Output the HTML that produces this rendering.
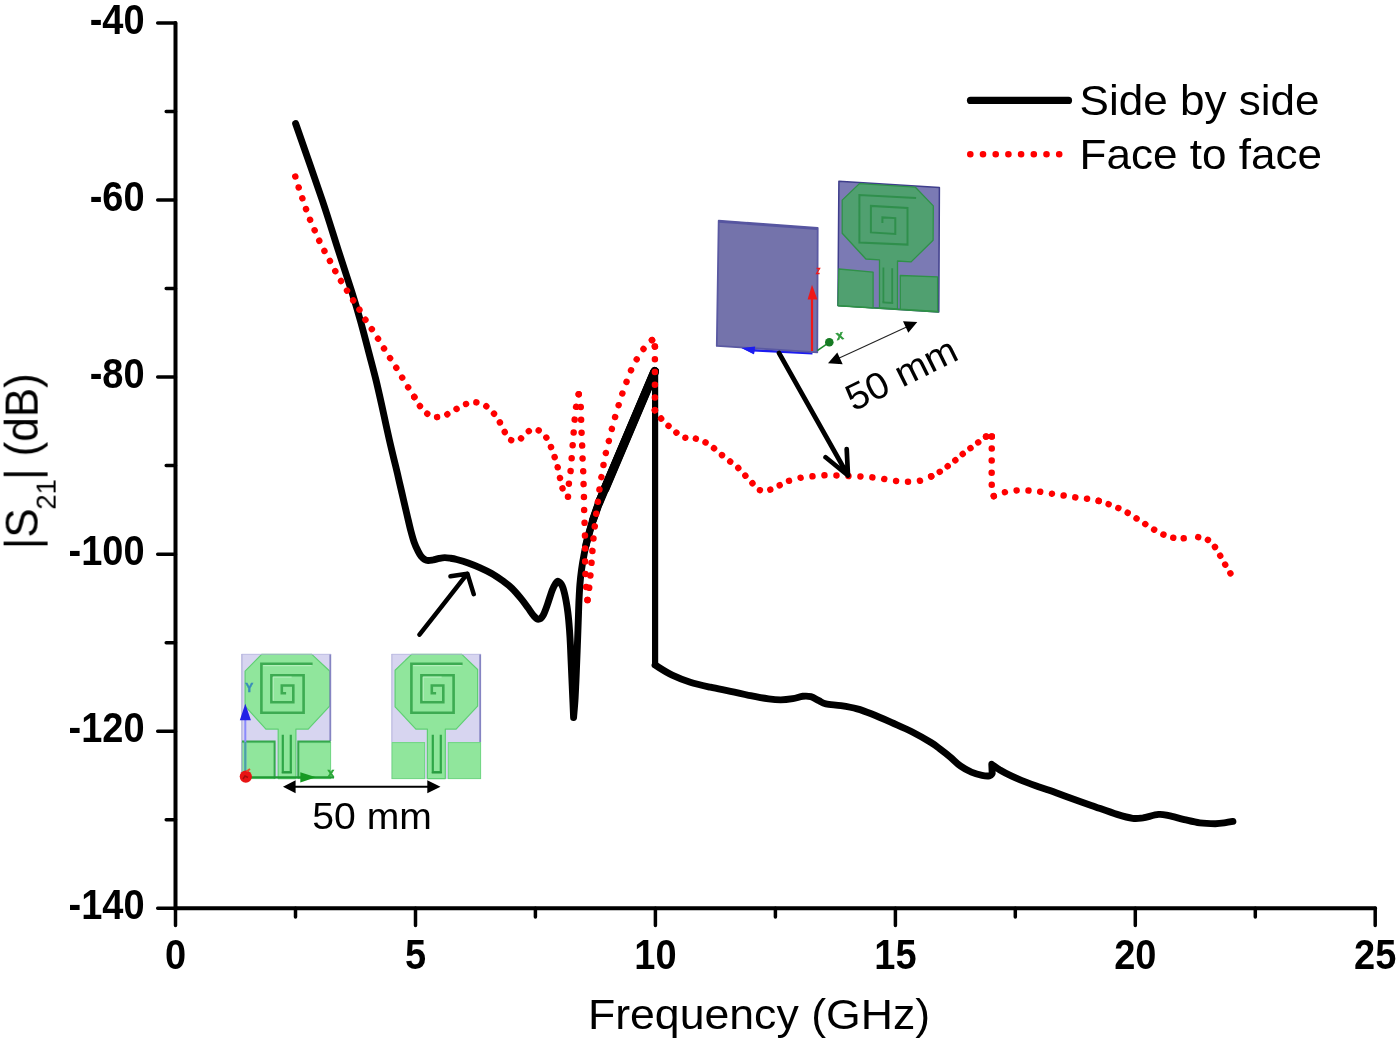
<!DOCTYPE html>
<html><head><meta charset="utf-8"><title>S21 chart</title>
<style>html,body{margin:0;padding:0;background:#fff}svg{display:block}text{font-family:"Liberation Sans",sans-serif;fill:#000}.tk{font-weight:bold;font-size:38px}</style></head><body>
<svg width="1400" height="1045" viewBox="0 0 1400 1045">
<defs><filter id="soft" x="0" y="0" width="1400" height="1045" filterUnits="userSpaceOnUse" color-interpolation-filters="sRGB"><feGaussianBlur stdDeviation="0.6"/></filter></defs>
<rect width="1400" height="1045" fill="#fff"/>
<g filter="url(#soft)">
<g stroke="#000" stroke-width="4.0" stroke-linecap="round" fill="none">
<path d="M175.5 22.9 V908.3 H1375.2"/>
<path d="M157.7 22.9H175.5M166.2 111.5H175.5M157.7 200H175.5M166.2 288.6H175.5M157.7 377.1H175.5M166.2 465.6H175.5M157.7 554.2H175.5M166.2 642.7H175.5M157.7 731.3H175.5M166.2 819.8H175.5M157.7 908.3H175.5M175.5 908.3V925.5M295.5 908.3V916.9M415.5 908.3V925.5M535.4 908.3V916.9M655.4 908.3V925.5M775.4 908.3V916.9M895.4 908.3V925.5M1015.3 908.3V916.9M1135.3 908.3V925.5M1255.3 908.3V916.9M1375.2 908.3V925.5" stroke-width="3.5"/>
</g>
<text class="tk" transform="translate(144.6 33.6) scale(1 1.1)" text-anchor="end">-40</text>
<text class="tk" transform="translate(144.6 210.7) scale(1 1.1)" text-anchor="end">-60</text>
<text class="tk" transform="translate(144.6 387.8) scale(1 1.1)" text-anchor="end">-80</text>
<text class="tk" transform="translate(144.6 564.9) scale(1 1.1)" text-anchor="end">-100</text>
<text class="tk" transform="translate(144.6 742) scale(1 1.1)" text-anchor="end">-120</text>
<text class="tk" transform="translate(144.6 919) scale(1 1.1)" text-anchor="end">-140</text>
<text class="tk" transform="translate(175.5 969.3) scale(1 1.1)" text-anchor="middle">0</text>
<text class="tk" transform="translate(415.5 969.3) scale(1 1.1)" text-anchor="middle">5</text>
<text class="tk" transform="translate(655.4 969.3) scale(1 1.1)" text-anchor="middle">10</text>
<text class="tk" transform="translate(895.4 969.3) scale(1 1.1)" text-anchor="middle">15</text>
<text class="tk" transform="translate(1135.3 969.3) scale(1 1.1)" text-anchor="middle">20</text>
<text class="tk" transform="translate(1375.2 969.3) scale(1 1.1)" text-anchor="middle">25</text>
<text transform="translate(759 1029.3) scale(1.038 1)" text-anchor="middle" font-size="43">Frequency (GHz)</text>
<text transform="translate(37.8 549.2) rotate(-90) scale(1 1.03)" font-size="44">|S<tspan font-size="27.5" dy="17.5" dx="-1.2">21</tspan><tspan dy="-17.5" dx="-1">| (dB)</tspan></text>
<defs>
  <!-- flat antenna, local origin = substrate top-left, size 89.4 x 125 -->
  <rect id="sub" x="0" y="0" width="89.4" height="125" fill="#d7d5f0"/>
  <g id="ant">
    <!-- ground pads -->
    <rect x=".4" y="88.6" width="32.6" height="36" fill="#90e69c" stroke="#6ed680" stroke-width="1"/>
    <rect x="56.7" y="88.6" width="32.3" height="36" fill="#90e69c" stroke="#6ed680" stroke-width="1"/>
    <!-- spiral slot -->
    <path d="M71 9.8H19.8V58.8H62V21.3H29.8V48.3H51.7V31.5H40.2V39.2H44.5" fill="none" stroke="#3dab52" stroke-width="2.6" stroke-linejoin="miter"/>
    <path d="M70 11.7H21.6" fill="none" stroke="#c4f5ca" stroke-width="1" opacity=".85"/>
    <path d="M50 23.1H31.6V46.6" fill="none" stroke="#c4f5ca" stroke-width="1" opacity=".8"/>
    <!-- feed slot -->
    <path d="M41.2 80.8V118.2H49.2V80.8" fill="none" stroke="#2fa648" stroke-width="2.2"/>
    <path d="M40.2 118.6H50.2" stroke="#2a9c40" stroke-width="1.6"/>
  </g>
</defs>

<!-- ============ side by side inset ============ -->
<g>
  <use href="#sub" x="241.6" y="654"/>
  <use href="#sub" x="391.6" y="654"/>
  <g fill="#90e69c" stroke="#5fcf73" stroke-width="1.2" stroke-linejoin="round">
    <path transform="translate(241.6 654)" d="M20 .4H70.2L88 17V52.1L66.6 75.1H54.3V124.6H36.6V75.1H24.3L3.5 52.1V17.2Z"/>
    <path transform="translate(391.6 654)" d="M20 .4H70.2L86 15.5V52.1L64.5 75.1H53.7V124.6H35.8V75.1H24.3L3.5 52.8V16.2Z"/>
  </g>
  <use href="#ant" x="241.6" y="654"/>
  <use href="#ant" x="391.6" y="654"/>
  <!-- substrate edges -->
  <path d="M241.9 654V778.8" stroke="#a6a5d6" stroke-width="1"/>
  <path d="M330.3 654V741" stroke="#8584c2" stroke-width="1.8"/>
  <path d="M391.9 654V742" stroke="#b4b3dc" stroke-width="1"/>
  <path d="M480.2 654V742" stroke="#8584c2" stroke-width="1.8"/>
  <path d="M241.6 654.3H331M391.6 654.3H481" stroke="#b9b8e0" stroke-width=".8"/>
  <!-- left antenna: darker outlines on pads & base line -->
  <path d="M242 741.6H274.6V778.6M298.3 778.6V741.6H330.6" fill="none" stroke="#35a84c" stroke-width="2"/>
  <path d="M246 777.3H334" stroke="#1f9a33" stroke-width="2.2"/>
  <!-- coordinate triad -->
  <path d="M245.3 776V716" stroke="#8a8afc" stroke-width="2"/>
  <path d="M245.3 776V742" stroke="#45a5a0" stroke-width="2"/>
  <path d="M239.8 720.2H250.9L245.3 703.8Z" fill="#2222e6"/>
  <path d="M300.3 772.2V782.4L316 777.3Z" fill="#169a22"/>
  <text x="245.3" y="692" font-size="12" font-weight="bold" style="fill:#3a8cba;stroke:#3a8cba;stroke-width:.5">Y</text>
  <text x="327.6" y="777" font-size="12" font-weight="bold" style="fill:#2aa838;stroke:#2aa838;stroke-width:.5">x</text>
  <circle cx="245.8" cy="776.6" r="6.1" fill="#e81414"/>
  <path d="M243 779l2-3 3 1.500" stroke="#a50c0c" stroke-width="1.4" fill="none"/>
  <path d="M246.500 771.500l3.500-2.500" stroke="#e84a2a" stroke-width="2"/>
  <!-- dimension arrow -->
  <path d="M293 786.8H431" stroke="#000" stroke-width="1.9"/>
  <path d="M283 786.8L295.6 780.3V793.3ZM440.5 786.8L427.3 780.3V793.3Z" fill="#000"/>
  <text x="372.1" y="829" text-anchor="middle" font-size="37.4" textLength="119.5" lengthAdjust="spacingAndGlyphs">50 mm</text>
</g>

<!-- ============ face to face inset ============ -->
<g>
  <!-- back board -->
  <path d="M753 350.2L812.5 353.4" stroke="#1c1cf0" stroke-width="2.4"/>
  <path d="M741.5 347.9L755.2 344.6L754 354.2Z" fill="#1c1cf0"/>
  <path d="M718.700 220.700L817.700 227.900L817.300 352.300L716.800 345.900Z" fill="#7473ab" stroke="#5a59a2" stroke-width="1.8" stroke-linejoin="round"/>
  <path d="M718.9 221.6L817.5 228.8" stroke="#5655a0" stroke-width="2.2"/>
  <!-- front board -->
  <path d="M838.900 181.200L939.400 187.500L938.800 312.100L837.900 305.600Z" fill="#7b7ab4" stroke="#3f3e8c" stroke-width="1.5" stroke-linejoin="round"/>
  <g fill="#50a070" stroke="#2f9148" stroke-width="1.3" stroke-linejoin="round">
    <path d="M859.400 183.600L915.400 187.200L933.300 205.900L933.100 240.300L911.100 261.900L897.500 261V308.800L879.500 307.700V259.900L865.900 259L842.200 233.200V200.100Z"/>
    <path d="M838.900 269L873.100 272.200V307.800L837.900 305.600Z"/>
    <path d="M900.300 275.500L937.600 276.900V311.400L900.300 309.200Z"/>
  </g>
  <path d="M916.100 198L859.400 195.100V242.500L907.500 244.600V208L870.900 205.900V232.400L895.300 233.900V218.100L882.400 217.400V223.100" fill="none" stroke="#2f8f4c" stroke-width="2"/>
  <path d="M883.400 267.600V302M892.200 268.300V302.800M882.400 302.300L893.200 303" fill="none" stroke="#2f8f4c" stroke-width="1.8"/>
  <path d="M838.200 305.700L938.800 312.100" stroke="#2f9148" stroke-width="1.5"/>
  <!-- triad -->
  <path d="M812 351V298" stroke="#f01818" stroke-width="2.2"/>
  <path d="M807.600 299.400H817.400L812 284.800Z" fill="#f01818"/>
  <path d="M816.600 268.500h3l-3 5h3" stroke="#f01818" stroke-width="1.3" fill="none"/>
  <path d="M741.5 347.9L755.2 346.4L754 354.2Z" fill="#1c1cf0"/>
  <path d="M817.300 350.700L829.200 342.300" stroke="#1d8a2a" stroke-width="1.6"/>
  <circle cx="829.300" cy="342.200" r="4.300" fill="#157a22"/>
  <text x="836" y="339.5" font-size="13" font-weight="bold" style="fill:#2e9a3c;stroke:#2e9a3c;stroke-width:.5" transform="rotate(-12 840 335)">x</text>
  <!-- dimension arrow -->
  <path d="M836 359.600L909.300 325.700" stroke="#222" stroke-width="1.1"/>
  <path d="M828 363.300L837.300 352.600L842.700 364.200ZM917.300 322L903 321.200L908.300 332.800Z" fill="#000"/>
  <text transform="translate(901.3 373.8) rotate(-26.3)" x="0" y="12.800" text-anchor="middle" font-size="37.4" textLength="119.5" lengthAdjust="spacingAndGlyphs">50 mm</text>
</g>

<path d="M295.6 123.5 C300 136.2 315.1 178.9 322.2 200 C329.3 221.1 333.4 235.2 338.3 250.3 C343.2 265.4 347.7 278.8 351.4 290.5 C355.1 302.2 357.6 310.6 360.4 320.6 C363.2 330.7 365.8 340.8 368.4 350.8 C371 360.9 373.8 371 376.2 380.9 C378.6 390.8 380.6 400.1 382.8 410 C385 419.9 387.2 430.4 389.5 440.4 C391.8 450.4 394.8 462.6 396.6 470 C398.4 477.4 398.9 480.1 400.1 485.1 C401.3 490.1 402.4 495.2 403.6 500.2 C404.8 505.2 405.9 510.2 407.1 515.2 C408.3 520.2 409.5 525.8 410.7 530.3 C411.9 534.8 413 539 414.2 542.4 C415.4 545.8 416.5 548.1 417.7 550.4 C418.9 552.7 420 554.9 421.2 556.4 C422.4 557.9 423.5 558.7 424.7 559.4 C425.9 560.1 426.8 560.4 428.2 560.5 C429.6 560.6 431.4 560.2 433.3 559.9 C435.2 559.5 437.4 558.8 439.3 558.4 C441.2 558 443 557.6 444.8 557.6 C446.6 557.6 448.4 557.9 450.4 558.2 C452.4 558.5 453.8 558.7 456.8 559.5 C459.8 560.3 464.4 561.6 468.2 563 C472 564.4 475.9 565.9 479.7 567.6 C483.5 569.3 487.4 571.1 491.2 573.3 C495 575.5 499.2 578.3 502.7 580.8 C506.1 583.3 508.8 585.2 511.9 588.2 C515 591.2 518.4 595.3 521.1 598.6 C523.8 601.9 525.9 604.9 528 607.8 C530.1 610.7 532 613.9 533.7 615.8 C535.4 617.7 536.8 619.3 538.3 619.3 C539.8 619.3 541.4 618.3 542.9 615.8 C544.4 613.3 546 608.5 547.5 604.3 C549 600.1 550.8 594 552.1 590.5 C553.4 587 554.5 585.1 555.5 583.6 C556.5 582.1 557.3 581 558.4 581.4 C559.5 581.8 561 583.2 562.2 585.9 C563.4 588.6 564.5 593 565.4 597.4 C566.3 601.8 567.1 606.6 567.8 612 C568.5 617.4 569.1 624.5 569.5 630 C569.9 635.5 570.1 638.3 570.4 645 C570.7 651.7 571.1 661.7 571.5 670 C571.9 678.3 572.2 687.1 572.6 695 C573 702.9 573.4 713.8 573.6 717.5 L573.6 717.5 C573.8 714.6 574.6 706.2 575 700 C575.4 693.8 575.6 688.3 576 680 C576.4 671.7 576.8 660 577.2 650 C577.6 640 578 628.3 578.3 620 C578.6 611.7 578.7 605.9 579 600 C579.3 594.1 579.5 589.6 579.9 584.6 C580.3 579.6 580.8 575 581.5 569.9 C582.2 564.8 583.1 559.4 584.2 553.8 C585.3 548.2 586.8 542 588.2 536.4 C589.7 530.8 590.9 526.4 592.9 520.3 C594.9 514.2 598.8 503.4 600 500" fill="none" stroke="#000" stroke-width="6.9" stroke-linejoin="round" stroke-linecap="round"/>
<g fill="none" stroke="#000" stroke-linejoin="round" stroke-linecap="round"><path d="M586 545 L588.2 536.4 L592.9 520.3 L600 500 L654.8 371" stroke-width="7.4"/><path d="M592.9 520.3 L600 500 L654.8 371" stroke-width="8.0"/><path d="M599 502.8 L654.7 371.4" stroke-width="8.5"/><path d="M605 488.7 L654.4 372.2" stroke-width="9.0"/></g>
<path d="M655.1 370.5 V665.1" fill="none" stroke="#000" stroke-width="6.2" stroke-linecap="round"/>
<path d="M655.1 665.1 C658 666.8 666.3 672.4 672.2 675.2 C678.1 678.1 683.9 680.2 690.3 682.2 C696.7 684.2 703.7 685.7 710.4 687.2 C717.1 688.7 723.8 689.9 730.5 691.3 C737.2 692.7 744.2 694.4 750.6 695.7 C757 697 763.6 698.2 768.6 698.9 C773.6 699.6 776.7 699.9 780.7 699.9 C784.7 699.9 789.1 699.3 792.8 698.7 C796.5 698.1 799.8 696.6 802.8 696.3 C805.8 696 808.2 696 810.9 696.7 C813.6 697.4 816.4 699.5 818.9 700.7 C821.4 701.9 822.2 703.1 825.9 703.9 C829.6 704.7 835.8 704.9 841 705.7 C846.2 706.5 852.1 707.5 857.1 708.9 C862.1 710.2 865.5 711.5 871.2 713.8 C876.9 716 884.6 719.4 891.3 722.4 C898 725.4 904.8 728.1 911.4 731.5 C918 734.9 926.2 739.6 931 742.5 C935.8 745.4 936.8 746.6 940 749 C943.2 751.4 946.5 753.9 950 756.8 C953.5 759.7 957.1 763.7 960.7 766.2 C964.3 768.8 967.8 770.6 971.4 772.1 C975 773.6 979.1 774.8 982.1 775.4 C985.1 776 987.8 776.1 989.5 775.8 C991.2 775.5 991.8 774 992.2 773.6 L991.8 764.3 C993.2 765.2 996.9 768.1 1000 770 C1003.1 771.9 1007.1 774 1010.7 775.7 C1014.3 777.4 1017.2 778.7 1021.4 780.4 C1025.6 782.1 1030.9 784 1035.7 785.7 C1040.5 787.4 1045 788.8 1050 790.6 C1055 792.4 1058.5 793.8 1065.4 796.3 C1072.3 798.8 1082.7 802.4 1091.3 805.4 C1099.9 808.4 1110.2 812.2 1117.1 814.4 C1124 816.5 1128.3 817.7 1132.6 818.3 C1136.9 818.9 1138.7 818.4 1143 817.8 C1147.3 817.1 1154.2 814.8 1158.5 814.4 C1162.8 814 1164.5 814.8 1168.8 815.7 C1173.1 816.6 1179.1 818.4 1184.3 819.6 C1189.5 820.8 1194.6 822.2 1199.8 822.9 C1205 823.6 1211 823.7 1215.3 823.7 C1219.6 823.7 1222.8 823.1 1225.7 822.7 C1228.6 822.3 1231.7 821.6 1232.9 821.4" fill="none" stroke="#000" stroke-width="6.9" stroke-linejoin="round" stroke-linecap="round"/>
<g fill="none" stroke="#f00" stroke-width="6.5" stroke-linecap="round" stroke-linejoin="round">
<path d="M295.3 176.5 C295.9 178.4 297.6 184.1 298.8 187.8 C300 191.6 301.4 195.4 302.6 199 C303.8 202.6 304.9 206 306.2 209.5 C307.5 213 308.8 216.7 310.2 220.1 C311.6 223.5 313.1 226.8 314.6 230.2 C316.1 233.6 317.5 237.1 319.2 240.6 C320.9 244.1 322.9 248 324.6 251.3 C326.3 254.6 327.9 257.1 329.6 260.3 C331.3 263.5 333.1 267.1 334.9 270.4 C336.7 273.6 338.5 276.8 340.3 279.8 C342.1 282.8 343.9 285.4 345.7 288.4 C347.5 291.4 349.5 295 351.4 297.9 C353.3 300.8 355.1 302.6 357 305.5 C358.9 308.4 360.8 312.4 362.8 315.6 C364.8 318.9 367 322 369 325 C371 328 373 330.8 374.9 333.7 C376.8 336.6 378.6 339.7 380.5 342.7 C382.4 345.7 384.2 348.8 386.1 351.8 C388 354.8 389.9 357.8 391.8 360.8 C393.7 363.8 395.7 366.8 397.6 369.8 C399.5 372.8 401.2 375.9 403 378.9 C404.8 381.9 406.7 385 408.6 388 C410.5 391 413.4 395.5 414.3 397" stroke-dasharray="0.01 11.427"/>
<path d="M414.3 397 C415.1 398.3 417.1 402.2 418.9 404.6 C420.7 407.1 422.5 409.6 424.9 411.7 C427.3 413.8 430.2 416.2 433.4 416.9 C436.6 417.6 440.6 416.8 444 415.7 C447.4 414.6 450.7 412.1 454.1 410.3 C457.5 408.5 461 406 464.5 404.6 C468 403.2 471.5 402 475 402.2 C478.5 402.4 482.6 404.1 485.6 405.8 C488.6 407.6 490.9 410.3 493.1 412.7 C495.3 415.1 496.9 417.4 498.7 420.3 C500.5 423.2 502.1 427.2 503.9 430.4 C505.7 433.6 507.3 437.7 509.7 439.4 C512.1 441.1 515.8 441.3 518.4 440.4 C521 439.5 522.6 435.7 525.2 433.8 C527.8 431.9 531 429 533.9 428.9 C536.8 428.8 540.5 431.3 542.9 433.4 C545.3 435.5 546.8 438.2 548.5 441.4 C550.2 444.6 551.6 448.6 553 452.5 C554.4 456.4 555.8 460 557 464.5 C558.2 469 559.3 475.2 560.4 479.6 C561.5 484 562.1 487.9 563.4 490.7 C564.7 493.5 567.2 495.7 568 496.7" stroke-dasharray="0.01 10.644"/>
<path d="M578.7 394.2 C578.3 396.3 576.8 402.4 576.1 406.6 C575.4 410.8 575.1 415.1 574.7 419.3 C574.3 423.5 574 427.8 573.7 432 C573.4 436.2 573 440.6 572.7 444.8 C572.4 449.1 572 453.3 571.7 457.5 C571.4 461.7 571.2 466 570.7 470.2 C570.2 474.4 569.5 478.2 569 482.6 C568.5 487 568.2 494.4 568 496.7" stroke-dasharray="0.01 12.878"/>
<path d="M578.7 394.2 C579 396.2 580.3 402.1 580.7 406.2 C581.1 410.3 581 414.7 581.1 418.9 C581.2 423.1 581.3 427.1 581.5 431.4 C581.7 435.6 581.9 440.1 582.1 444.4 C582.3 448.7 582.3 452.9 582.5 457.1 C582.7 461.3 582.9 465.4 583.1 469.5 C583.3 473.6 583.4 477.8 583.5 482 C583.6 486.2 583.8 490.3 583.9 494.7 C584 499.1 584 504 584.1 508.3 C584.2 512.6 584.4 516.7 584.5 520.8 C584.6 524.9 584.8 528.9 584.9 532.9 C585 536.9 585.1 540.7 585.1 544.9 C585.1 549.1 585.1 554 585.1 558 C585.1 562 585.1 564.5 585.3 569 C585.4 573.5 585.6 579.8 586 585 C586.4 590.2 587.2 597.5 587.5 600" stroke-dasharray="0.01 12.870"/>
<path d="M652 340.1 C650.8 341.3 647.1 344.6 644.8 347.3 C642.5 350.1 640.3 353.3 638.3 356.6 C636.3 359.9 634.3 363.3 632.6 366.9 C630.9 370.4 629.4 374.2 628 377.9 C626.6 381.6 625.3 385.3 624 388.9 C622.7 392.5 621.5 395.8 620.4 399.4 C619.2 403 618.2 406.8 617.1 410.5 C616 414.2 614.8 418 613.7 421.9 C612.6 425.8 611.6 429.8 610.6 433.9 C609.6 438 608.5 442.2 607.5 446.3 C606.5 450.4 605.4 454.4 604.6 458.5 C603.8 462.6 603.3 466.4 602.6 470.6 C601.9 474.8 600.9 479.2 600.2 483.6 C599.5 488 599.2 492.4 598.6 496.7 C598 501 597.5 504.1 596.8 509.3 C596.1 514.5 595.2 522.5 594.6 527.8 C594 533.1 593.6 536.5 593.2 540.9 C592.8 545.3 592.5 549.8 592.2 554 C591.9 558.2 591.7 560.8 591.2 566 C590.8 571.2 590.1 579.3 589.5 585 C588.9 590.7 587.8 597.5 587.5 600" stroke-dasharray="0.01 12.344"/>
<path d="M654.9 346.6 L654.9 410.2" stroke-dasharray="0.01 12.698"/>
<path d="M652 340.1 L654.9 346.6" stroke-dasharray="0.01 7.048"/>
<path d="M654.9 410.2 C655.9 411.6 658.8 415.8 660.9 418.3 C663 420.8 665.4 423 667.8 425.2 C670.2 427.4 672.5 429.7 675.2 431.7 C677.9 433.7 680.7 436.3 684 437.4 C687.3 438.5 691.6 437.7 695.1 438.5 C698.6 439.3 701.8 440.5 704.8 442 C707.8 443.5 710.3 445.5 713 447.5 C715.7 449.5 718.2 452 720.9 454.2 C723.6 456.4 726.5 458.7 729.1 460.7 C731.7 462.7 734.3 464.2 736.7 466.4 C739.1 468.6 741.2 471.3 743.6 473.8 C746 476.3 748.4 478.7 750.9 481.4 C753.4 484.1 755.6 488.4 758.7 489.8 C761.8 491.2 766.2 490.5 769.7 489.8 C773.2 489.1 776.2 486.9 779.4 485.4 C782.6 483.9 787.4 481.6 789 480.8" stroke-dasharray="0.01 10.405"/>
<path d="M789 480.8 C790.9 480.3 796.3 478.5 800.1 477.8 C803.9 477.1 807.7 476.8 811.6 476.4 C815.5 476 819.5 475.6 823.6 475.4 C827.7 475.2 832.2 475.3 836.3 475.4 C840.4 475.5 844.2 475.8 848.3 476 C852.4 476.2 856.8 476.2 860.8 476.4 C864.8 476.6 868.6 477 872.5 477.4 C876.4 477.8 880.1 478.4 883.9 479 C887.6 479.6 891.2 480.3 895 480.8 C898.8 481.3 902.5 481.8 906.6 481.8 C910.7 481.8 915.6 481.7 919.7 480.8 C923.8 479.9 929.3 477.1 931.2 476.4" stroke-dasharray="0.01 11.986"/>
<path d="M931.2 476.4 C932.6 475.6 937.1 473.5 939.8 471.8 C942.5 470.1 945 468.2 947.6 466.3 C950.2 464.4 952.8 462.3 955.3 460.3 C957.8 458.3 959.8 456.3 962.3 454.3 C964.8 452.3 967.7 450.2 970.4 448.2 C973.1 446.2 975.8 444.1 978.4 442.2 C981 440.3 984.8 437.5 986.1 436.6" stroke-dasharray="0.01 9.688"/>
<path d="M986.1 436.6 L991.8 436.6" stroke-dasharray="0.01 5.630"/>
<path d="M991.8 436.6 C991.8 445.1 991.5 477.5 991.8 487.4 C992.1 497.3 993.5 494.7 993.8 496.1" stroke-dasharray="0.01 11.982"/>
<path d="M993.8 496.1 C995.5 495.5 1000.3 493.4 1003.8 492.5 C1007.3 491.6 1011 490.8 1014.9 490.5 C1018.8 490.2 1022.9 490.3 1026.9 490.5 C1030.9 490.7 1034.6 491 1038.8 491.5 C1043 492 1047.8 493 1052.1 493.7 C1056.4 494.4 1060.5 495.1 1064.5 495.7 C1068.5 496.3 1072.4 497 1076.2 497.5 C1080 498 1083.8 498.3 1087.6 498.9 C1091.3 499.5 1096.8 500.6 1098.7 500.9" stroke-dasharray="0.01 11.820"/>
<path d="M1098.7 500.9 C1100.3 501.4 1105 502.9 1108.3 504.1 C1111.6 505.3 1115.2 506.7 1118.4 508.1 C1121.6 509.5 1124.5 511 1127.4 512.6 C1130.3 514.2 1133.2 516.2 1135.9 518 C1138.7 519.8 1141.2 521.4 1143.9 523.2 C1146.7 525 1149.5 526.9 1152.4 528.6 C1155.4 530.4 1158.5 532.2 1161.6 533.7 C1164.7 535.2 1167.6 536.5 1171.1 537.3 C1174.6 538.1 1178.7 538.3 1182.5 538.3 C1186.3 538.3 1192.2 537.3 1194.2 537.1" stroke-dasharray="0.01 10.452"/>
<path d="M1230.4 573.3 C1229.6 571.9 1227 567.8 1225.3 564.8 C1223.5 561.8 1221.7 558.3 1219.9 555.2 C1218.1 552.1 1216.3 548.7 1214.3 546.1 C1212.2 543.5 1210.3 541.2 1207.6 539.7 C1204.9 538.2 1199.8 537.5 1198.2 537.1" stroke-dasharray="0.01 10.125"/>
</g>
<path d="M970.5 100.4H1068.5" stroke="#000" stroke-width="7.2" stroke-linecap="round"/>
<path d="M970.3 154.3H1060" stroke="#f00" stroke-width="6.6" stroke-linecap="round" stroke-dasharray="0.01 12.69"/>
<text transform="translate(1079.5 114.8) scale(1.032 1)" font-size="42.7">Side by side</text>
<text transform="translate(1079.5 168.8) scale(1.032 1)" font-size="42.7">Face to face</text>
<g stroke="#000" stroke-width="4.7" stroke-linecap="round" stroke-linejoin="round" fill="none">
<path d="M779 353 L848 475.5 M825.6 457.3 L848 475.5 L846.7 449.2"/>
<path d="M419.5 634.7 L467.4 573.7 M450.5 576.3 L467.4 573.7 L473.7 594.2" stroke-width="4.5"/>
</g>
</g>
</svg></body></html>
